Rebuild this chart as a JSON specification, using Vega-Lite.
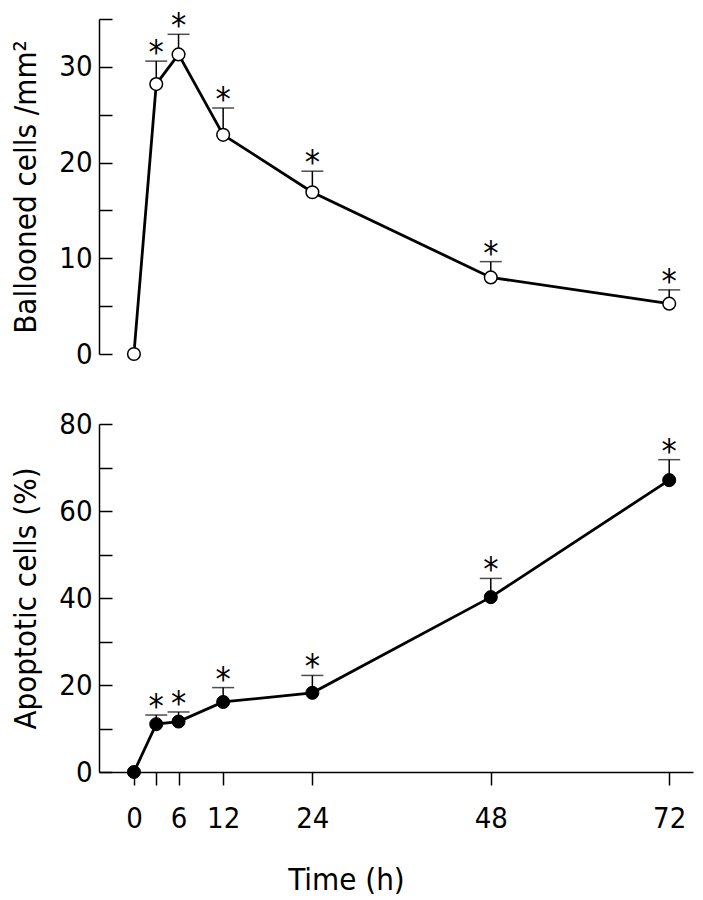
{
  "$schema": "https://vega.github.io/schema/vega-lite/v6.json",
  "padding": {"left": 10, "top": 10, "right": 11, "bottom": 0},
  "autosize": {"type": "pad"},
  "background": "white",
  "config": {
    "view": {"stroke": null},
    "font": "'DejaVu Sans Condensed', 'Liberation Sans', sans-serif",
    "axis": {"grid": false, "domainColor": "black", "tickColor": "black", "labelColor": "black", "titleColor": "black", "domainWidth": 1.5, "tickWidth": 1.5, "labelFont": "'DejaVu Sans Condensed', 'Liberation Sans', sans-serif", "titleFont": "'DejaVu Sans Condensed', 'Liberation Sans', sans-serif", "labelFontSize": 29, "titleFontSize": 31, "titleFontWeight": "normal"}
  },
  "datasets": {
    "balloon": [
      {"time": 0, "val": 0, "err": null},
      {"time": 3, "val": 28.2, "err": 30.6},
      {"time": 6, "val": 31.3, "err": 33.4},
      {"time": 12, "val": 22.9, "err": 25.7},
      {"time": 24, "val": 16.9, "err": 19.1},
      {"time": 48, "val": 8.0, "err": 9.65},
      {"time": 72, "val": 5.26, "err": 6.7}
    ],
    "apop": [
      {"time": 0, "val": 0, "err": null},
      {"time": 3, "val": 11.0, "err": 13.1},
      {"time": 6, "val": 11.6, "err": 13.8},
      {"time": 12, "val": 16.1, "err": 19.4},
      {"time": 24, "val": 18.2, "err": 22.2},
      {"time": 48, "val": 40.2, "err": 44.5},
      {"time": 72, "val": 67.1, "err": 71.8}
    ]
  },
  "bounds": "flush",
  "spacing": 70,
  "vconcat": [
    {
      "width": 594,
      "height": 335,
      "data": {"name": "balloon"},
      "encoding": {
        "x": {"field": "time", "type": "quantitative", "scale": {"domain": [-4.7, 75.2], "nice": false, "zero": false}, "axis": null}
      },
      "layer": [
        {
          "mark": {"type": "line", "color": "black", "strokeWidth": 2.8},
          "encoding": {
            "y": {"field": "val", "type": "quantitative", "scale": {"domain": [0, 35], "nice": false},
              "axis": {"title": "Ballooned cells /mm²", "values": [0, 5, 10, 15, 20, 25, 30, 35], "labelExpr": "datum.value % 10 == 0 ? datum.label : ''", "tickSize": -13, "labelPadding": 20, "titlePadding": 16}}
          }
        },
        {
          "transform": [{"filter": "datum.err != null"}],
          "mark": {"type": "rule", "color": "black", "strokeWidth": 1.5},
          "encoding": {"y": {"field": "val", "type": "quantitative"}, "y2": {"field": "err"}}
        },
        {
          "transform": [{"filter": "datum.err != null"}],
          "mark": {"type": "tick", "orient": "horizontal", "color": "black", "thickness": 1.5, "size": 22},
          "encoding": {"y": {"field": "err", "type": "quantitative"}}
        },
        {
          "mark": {"type": "point", "shape": "circle", "filled": true, "fill": "white", "stroke": "black", "strokeWidth": 1.5, "size": 160, "opacity": 1},
          "encoding": {"y": {"field": "val", "type": "quantitative"}}
        },
        {
          "transform": [{"filter": "datum.err != null"}],
          "mark": {"type": "text", "text": "*", "fontSize": 34, "baseline": "alphabetic", "align": "center", "color": "black", "dy": 3},
          "encoding": {"y": {"field": "err", "type": "quantitative"}}
        }
      ]
    },
    {
      "width": 594,
      "height": 348,
      "data": {"name": "apop"},
      "encoding": {
        "x": {"field": "time", "type": "quantitative", "scale": {"domain": [-4.7, 75.2], "nice": false, "zero": false},
          "axis": {"title": "Time (h)", "values": [0, 3, 6, 12, 24, 48, 72], "labelExpr": "datum.value == 3 ? '' : datum.label", "tickSize": 13, "labelPadding": 19, "titlePadding": 32, "titleX": 247}}
      },
      "layer": [
        {
          "mark": {"type": "line", "color": "black", "strokeWidth": 2.8},
          "encoding": {
            "y": {"field": "val", "type": "quantitative", "scale": {"domain": [0, 80], "nice": false},
              "axis": {"title": "Apoptotic cells (%)", "values": [0, 10, 20, 30, 40, 50, 60, 70, 80], "labelExpr": "datum.value % 20 == 0 ? datum.label : ''", "tickSize": -13, "labelPadding": 20, "titlePadding": 16}}
          }
        },
        {
          "transform": [{"filter": "datum.err != null"}],
          "mark": {"type": "rule", "color": "black", "strokeWidth": 1.5},
          "encoding": {"y": {"field": "val", "type": "quantitative"}, "y2": {"field": "err"}}
        },
        {
          "transform": [{"filter": "datum.err != null"}],
          "mark": {"type": "tick", "orient": "horizontal", "color": "black", "thickness": 1.5, "size": 22},
          "encoding": {"y": {"field": "err", "type": "quantitative"}}
        },
        {
          "mark": {"type": "point", "shape": "circle", "filled": true, "fill": "black", "stroke": "black", "strokeWidth": 1, "size": 170, "opacity": 1},
          "encoding": {"y": {"field": "val", "type": "quantitative"}}
        },
        {
          "transform": [{"filter": "datum.err != null"}],
          "mark": {"type": "text", "text": "*", "fontSize": 34, "baseline": "alphabetic", "align": "center", "color": "black", "dy": 3},
          "encoding": {"y": {"field": "err", "type": "quantitative"}}
        }
      ]
    }
  ]
}
